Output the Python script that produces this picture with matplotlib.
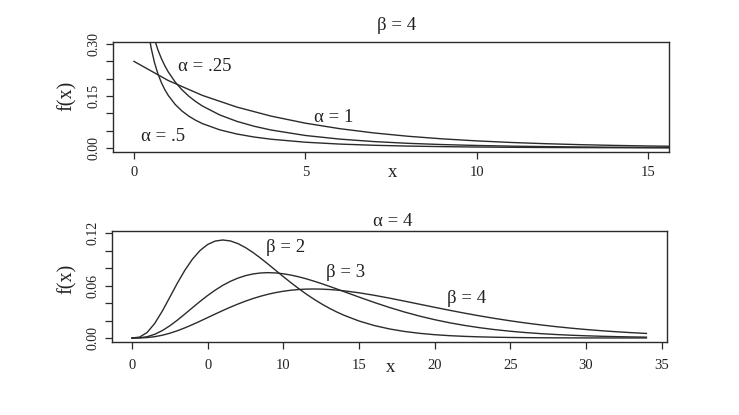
import matplotlib
matplotlib.use("Agg")
import matplotlib.pyplot as plt

plt.rcParams['font.family'] = ['Liberation Serif', 'DejaVu Serif']

# ---------------- data: top panel (beta = 4) ----------------
x_top = [0.3, 0.4, 0.5, 0.6, 0.7, 0.8, 0.9, 1.0, 1.2, 1.4, 1.6, 1.8, 2.0, 2.5,
         3.0, 3.5, 4.0, 5.0, 6.0, 7.0, 8.0, 9.0, 10.0, 11.0, 12.0, 13.0, 14.0,
         15.0, 16.0]
f_a025 = [0.44634, 0.35084, 0.28944, 0.24622, 0.21392, 0.18876, 0.16853, 0.15188,
          0.12601, 0.10678, 0.09189, 0.08002, 0.07033, 0.05250, 0.04041, 0.03177,
          0.02537, 0.01671, 0.01135, 0.00787, 0.00555, 0.00396, 0.00285, 0.00206,
          0.00151, 0.00110, 0.00081, 0.00060, 0.00045]
f_a05 = [0.47781, 0.40358, 0.35206, 0.31345, 0.28304, 0.25822, 0.23744, 0.21969,
         0.19077, 0.16800, 0.14949, 0.13407, 0.12098, 0.09550, 0.07693, 0.06286,
         0.05189, 0.03614, 0.02570, 0.01853, 0.01350, 0.00991, 0.00732, 0.00544,
         0.00405, 0.00303, 0.00228, 0.00171, 0.00129]
x_top_a1 = [0, 1, 2, 3, 4, 5, 6, 7, 8, 9, 10, 11, 12, 13, 14, 15, 16]
f_a1 = [0.25, 0.19470, 0.15163, 0.11809, 0.09197, 0.07163, 0.05578, 0.04344,
        0.03383, 0.02635, 0.02052, 0.01598, 0.01245, 0.00969, 0.00755, 0.00588,
        0.00458]
top_labels = ["α = .25", "α = 1", "α = .5"]

# ---------------- data: bottom panel (alpha = 4) ----------------
x_bot = [0.0, 0.5, 1.0, 1.5, 2.0, 2.5, 3.0, 3.5, 4.0, 4.5, 5.0, 5.5, 6.0, 6.5,
         7.0, 7.5, 8.0, 8.5, 9.0, 9.5, 10.0, 10.5, 11.0, 11.5, 12.0, 12.5, 13.0,
         13.5, 14.0, 15.0, 16.0, 17.0, 18.0, 19.0, 20.0, 21.0, 22.0, 23.0, 24.0,
         25.0, 26.0, 27.0, 28.0, 29.0, 30.0, 31.0, 32.0, 33.0, 34.0]
f_b2 = [0.0, 0.001014, 0.006318, 0.016607, 0.030657, 0.046631, 0.062755, 0.077608,
        0.090227, 0.100048, 0.106881, 0.110792, 0.112021, 0.110920, 0.107892,
        0.103351, 0.097685, 0.091249, 0.084359, 0.077268, 0.070186, 0.063278,
        0.056662, 0.050423, 0.044618, 0.039276, 0.034406, 0.030009, 0.026065,
        0.019444, 0.014313, 0.010413, 0.007497, 0.005348, 0.003783, 0.002656,
        0.001853, 0.001284, 0.000885, 0.000607, 0.000414, 0.000281, 0.000190,
        0.000128, 0.000086, 0.000058, 0.000038, 0.000026, 0.000017]
f_b3 = [0.0, 0.000218, 0.001474, 0.004212, 0.008451, 0.013972, 0.020438, 0.027472,
        0.034713, 0.041837, 0.048580, 0.054733, 0.060151, 0.064735, 0.068439,
        0.071254, 0.073200, 0.074322, 0.074680, 0.074348, 0.073403, 0.071928,
        0.070004, 0.067710, 0.065123, 0.062307, 0.059328, 0.056239, 0.053094,
        0.046791, 0.040690, 0.034970, 0.029746, 0.025066, 0.020948, 0.017376,
        0.014315, 0.011720, 0.009542, 0.007728, 0.006229, 0.004998, 0.003994,
        0.003180, 0.002522, 0.001994, 0.001572, 0.001235, 0.000968]
f_b4 = [0.0, 0.000072, 0.000507, 0.001510, 0.003159, 0.005445, 0.008303, 0.011636,
        0.015328, 0.019260, 0.023315, 0.027387, 0.031378, 0.035206, 0.038804,
        0.042119, 0.045113, 0.047751, 0.050024, 0.051919, 0.053441, 0.054595,
        0.055396, 0.055861, 0.056010, 0.055869, 0.055460, 0.054811, 0.053946,
        0.051675, 0.048843, 0.045624, 0.042180, 0.038634, 0.035093, 0.031639,
        0.028331, 0.025212, 0.022309, 0.019638, 0.017203, 0.015004, 0.013032,
        0.011276, 0.009722, 0.008354, 0.007157, 0.006113, 0.005207]
bot_labels = ["β = 2", "β = 3", "β = 4"]

top_xticks = [0, 5, 10, 15]
top_xticklabels = ["0", "5", "10", "15"]
top_yticks = [0.0, 0.05, 0.10, 0.15, 0.20, 0.25, 0.30]
top_yticklabels = ["0.00", "", "", "0.15", "", "", "0.30"]
bot_xticks = [0, 5, 10, 15, 20, 25, 30, 35]
bot_xticklabels = ["0", "0", "10", "15", "20", "25", "30", "35"]
bot_yticks = [0.0, 0.02, 0.04, 0.06, 0.08, 0.10, 0.12]
bot_yticklabels = ["0.00", "", "", "0.06", "", "", "0.12"]

W, H = 739, 415
fig = plt.figure(figsize=(W / 100, H / 100), dpi=100)
fig.patch.set_facecolor("white")

LC = "#2b2b2b"
TC = "#222222"
FS = 13.5


def px_axes(left, top, right, bottom):
    return fig.add_axes([left / W, 1 - bottom / H, (right - left) / W, (bottom - top) / H])


def style(ax, xpad, ypad):
    for s in ax.spines.values():
        s.set_color(LC)
        s.set_linewidth(1.0)
    ax.tick_params(direction="out", length=5, width=0.9, color=LC, labelcolor=TC)
    ax.tick_params(axis="x", pad=xpad, labelsize=10.5)
    ax.tick_params(axis="y", pad=ypad, labelsize=10)
    for lab in ax.get_yticklabels():
        lab.set_rotation(90)
        lab.set_va("center")


# ---- top ----
ax1 = px_axes(113, 42, 669, 152)
ax1.plot(x_top, f_a025, color=LC, lw=1.0)
ax1.plot(x_top, f_a05, color=LC, lw=1.0)
ax1.plot(x_top_a1, f_a1, color=LC, lw=1.0)
ax1.set_xlim(-0.61, 15.6)
ax1.set_ylim(-0.0115, 0.3058)
ax1.set_xticks(top_xticks)
ax1.set_xticklabels(top_xticklabels)
ax1.set_yticks(top_yticks)
ax1.set_yticklabels(top_yticklabels)
style(ax1, 5, 4)
ax1.text(2.07, 0.2365, top_labels[0], fontsize=FS, color=TC, ha="center", va="center")
ax1.text(5.83, 0.0894, top_labels[1], fontsize=FS, color=TC, ha="center", va="center")
ax1.text(0.85, 0.032, top_labels[2], fontsize=FS, color=TC, ha="center", va="center")

# ---- bottom ----
ax2 = px_axes(112, 231, 667, 342)
ax2.plot(x_bot, f_b2, color=LC, lw=1.0)
ax2.plot(x_bot, f_b3, color=LC, lw=1.0)
ax2.plot(x_bot, f_b4, color=LC, lw=1.0)
ax2.set_xlim((112 - 132) / 15.13, (667 - 132) / 15.13)
ax2.set_ylim((338 - 342) / 875, (338 - 231) / 875)
ax2.set_xticks(bot_xticks)
ax2.set_xticklabels(bot_xticklabels)
ax2.set_yticks(bot_yticks)
ax2.set_yticklabels(bot_yticklabels)
style(ax2, 7.5, 4)
ax2.text(10.18, 0.1029, bot_labels[0], fontsize=FS, color=TC, ha="center", va="center")
ax2.text(14.1, 0.0743, bot_labels[1], fontsize=FS, color=TC, ha="center", va="center")
ax2.text(22.14, 0.0457, bot_labels[2], fontsize=FS, color=TC, ha="center", va="center")

# titles and axis labels
fig.text(397 / W, 1 - 26 / H, "β = 4", fontsize=FS, color=TC, ha="center", va="center")
fig.text(393 / W, 1 - 221 / H, "α = 4", fontsize=FS, color=TC, ha="center", va="center")
fig.text(393 / W, 1 - 172 / H, "x", fontsize=FS, color=TC, ha="center", va="center")
fig.text(391 / W, 1 - 367 / H, "x", fontsize=FS, color=TC, ha="center", va="center")
fig.text(67 / W, 1 - 96 / H, "f(x)", fontsize=14.5, color=TC, ha="center", va="center", rotation=90)
fig.text(67 / W, 1 - 279 / H, "f(x)", fontsize=14.5, color=TC, ha="center", va="center", rotation=90)

fig.savefig("out.png", dpi=100, facecolor="white")
